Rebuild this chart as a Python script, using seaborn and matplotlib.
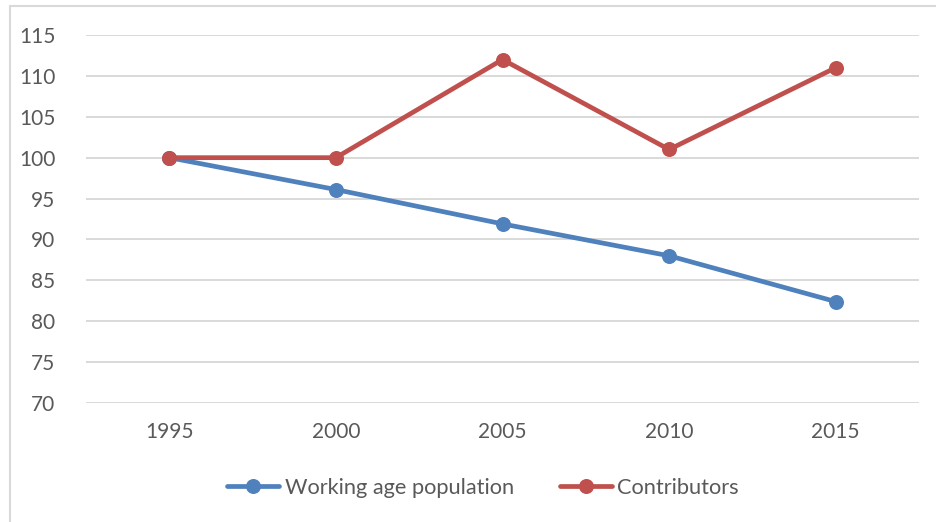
import matplotlib
matplotlib.use("Agg")
import matplotlib.pyplot as plt
from matplotlib.lines import Line2D
import seaborn as sns
import pandas as pd

years = ["1995", "2000", "2005", "2010", "2015"]
working_age = [100, 96.1, 91.9, 88.0, 82.4]
contributors = [100, 100, 112.0, 101.0, 111.0]
series_names = ["Working age population", "Contributors"]
y_ticks = [70, 75, 80, 85, 90, 95, 100, 105, 110, 115]

sns.set_theme(style="white")
plt.rcParams['font.family'] = ['Lato', 'DejaVu Sans']

df = pd.DataFrame({
    "year": years * 2,
    "value": working_age + contributors,
    "series": [series_names[0]] * len(years) + [series_names[1]] * len(years),
})

W, H = 936, 522
fig = plt.figure(figsize=(W / 100, H / 100), dpi=100)
ax = fig.add_axes([86 / W, 1 - 403 / H, (919 - 86) / W, (403 - 35) / H])

palette = {series_names[0]: "#4f81bd", series_names[1]: "#c0504d"}
lw = 3.4
ms = 10.8
sns.lineplot(data=df, x="year", y="value", hue="series", palette=palette,
             marker="o", markersize=ms, markeredgewidth=0, linewidth=lw,
             sort=False, ax=ax, legend=False)

ax.set_xlim(-0.5, len(years) - 0.5)
ax.set_ylim(70, 115)
ax.set_yticks(y_ticks)
ax.set_yticklabels([str(t) for t in y_ticks])
ax.grid(axis="y", color="#d9d9d9", linewidth=1.4)
ax.grid(axis="x", visible=False)
ax.set_axisbelow(True)
for s in ax.spines.values():
    s.set_visible(False)
ax.set_xlabel("")
ax.set_ylabel("")
ax.tick_params(axis="both", length=0, labelsize=15, labelcolor="#595959")
ax.tick_params(axis="y", pad=22)
ax.tick_params(axis="x", pad=14)

handles = [Line2D([0], [0], color=palette[n], marker="o", markersize=ms,
                  markeredgewidth=0, linewidth=lw) for n in series_names]
leg = fig.legend(handles, series_names, loc="center", bbox_to_anchor=(483 / W, 1 - 488 / H),
                 ncol=2, frameon=False, fontsize=15.7, handlelength=2.4,
                 columnspacing=2.1, handletextpad=0.25, labelcolor="#595959")

# outer chart border (left and top visible)
fig.add_artist(Line2D([10 / W, 10 / W], [0, 1 - 6 / H], transform=fig.transFigure,
                      color="#d9d9d9", linewidth=1.5))
fig.add_artist(Line2D([10 / W, 1], [1 - 6 / H, 1 - 6 / H], transform=fig.transFigure,
                      color="#d9d9d9", linewidth=1.5))

fig.savefig("out.png", dpi=100, facecolor="white")
